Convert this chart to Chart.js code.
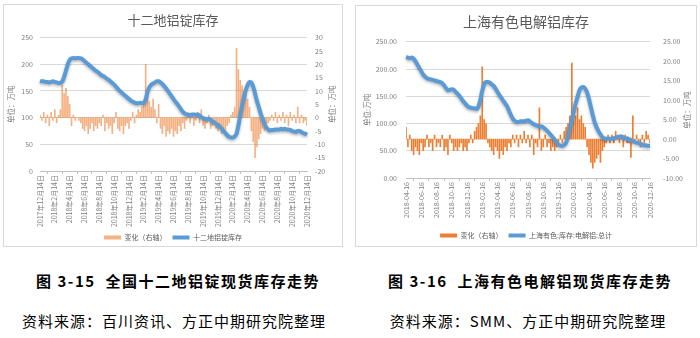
<!DOCTYPE html>
<html>
<head>
<meta charset="utf-8">
<script src="https://cdn.jsdelivr.net/npm/chart.js@4.4.1/dist/chart.umd.min.js"></script>
<style>
body { margin: 0; background: #fff; width: 700px; height: 338px; position: relative; overflow: hidden;
       font-family: "Noto Sans CJK SC", sans-serif; }
.box { position: absolute; border: 1px solid #D9D9D9; }
.cv { position: absolute; }
.cap { position: absolute; width: 340px; text-align: center; color: #000; white-space: nowrap; line-height: 20px; }
.cap1 { font-size: 15px; font-weight: bold; letter-spacing: 1.5px; }
.cap2 { font-size: 15px; letter-spacing: 1px; }
</style>
</head>
<body>
<div class="box" style="left:3px;top:4px;width:338px;height:241px"></div>
<div class="box" style="left:355px;top:5px;width:340px;height:240px"></div>
<div class="cv" style="left:4px;top:5px;width:338px;height:246px"><canvas id="leftChart"></canvas></div>
<div class="cv" style="left:356px;top:6px;width:340px;height:243px"><canvas id="rightChart"></canvas></div>

<div class="cap cap1" style="left:8px;top:271px">图 3-15&nbsp; 全国十二地铝锭现货库存走势</div>
<div class="cap cap2" style="left:4px;top:311px">资料来源：百川资讯、方正中期研究院整理</div>
<div class="cap cap1" style="left:360px;top:271px">图 3-16&nbsp; 上海有色电解铝现货库存走势</div>
<div class="cap cap2" style="left:358px;top:311px">资料来源：SMM、方正中期研究院整理</div>

<script>
// 十二地铝锭库存 (weekly, 2017-12-14 .. 2020-12-14)
var leftTicks = ['2017年12月14日', '2018年2月14日', '2018年4月14日', '2018年6月14日', '2018年8月14日',
    '2018年10月14日', '2018年12月14日', '2019年2月14日', '2019年4月14日', '2019年6月14日',
    '2019年8月14日', '2019年10月14日', '2019年12月14日', '2020年2月14日', '2020年4月14日',
    '2020年6月14日', '2020年8月14日', '2020年10月14日', '2020年12月14日'];
var leftStock = [
    169, 168, 168, 167, 167, 166, 167, 168, 167, 166,
    165, 165, 168, 176, 188, 200, 208, 211, 212, 211,
    212, 212, 211, 209, 206, 203, 200, 197, 194, 191,
    188, 186, 183, 180, 178, 176, 173, 171, 168, 165,
    162, 158, 154, 150, 147, 144, 141, 138, 135, 132,
    130, 128, 127, 127, 128, 127, 128, 134, 148, 157,
    162, 164, 166, 168, 168, 166, 163, 159, 155, 150,
    145, 140, 135, 130, 126, 121, 116, 111, 108, 106,
    105, 105, 106, 106, 105, 106, 104, 101, 99, 98,
    97, 98, 96, 93, 91, 88, 86, 83, 79, 75,
    71, 67, 64, 63, 63, 65, 70, 85, 105, 122,
    138, 152, 161, 167, 166, 158, 145, 131, 120, 108,
    98, 89, 82, 78, 76, 77, 77, 78, 78, 78,
    79, 78, 79, 78, 78, 77, 75, 74, 73, 75,
    75, 73, 71, 70, 68];
var leftChange = [
    1, -1, 2, -2, 1, -3, 2, -1, 3, -2,
    1, 3, 12, 9, 11, 8, 5, -3, 1, -1,
    0, -1, -2, -4, -5, -3, -6, -4, -2, -5,
    -3, -4, -2, -3, 1, -5, -2, -4, -3, -6,
    -2, 2, -4, -5, -3, -6, -3, -2, -4, -1,
    2, -2, 1, 3, 2, 4, 6, 20, 9, 6,
    4, 7, 3, -2, 5, -4, -6, -3, -7, -5,
    -6, -4, -7, -5, -6, -3, -5, -2, -4, -1,
    2, -2, 1, -3, -1, 2, -2, 3, -3, -4,
    -2, 1, -4, -3, -2, -4, -5, -3, -6, -4,
    -5, -3, -2, 1, 2, 4, 26, 18, 14, 12,
    9, 10, 7, 4, -5, -9, -15, -11, -8, -6,
    -4, -5, -3, -2, -1, 1, -1, 2, -2, 1,
    -1, 2, -2, 1, -3, 2, -1, 1, -2, 4,
    -2, 1, -2, -1, -3];

// 上海有色电解铝库存 (2018-04-16 .. 2020-12-16)
var rightTicks = ['2018-04-16', '2018-06-16', '2018-08-16', '2018-10-16', '2018-12-16',
    '2019-02-16', '2019-04-16', '2019-06-16', '2019-08-16', '2019-10-16', '2019-12-16',
    '2020-02-16', '2020-04-16', '2020-06-16', '2020-08-16', '2020-10-16', '2020-12-16'];
var rightStock = [
    222, 221, 220, 221, 219, 214, 208, 202, 196, 190,
    186, 183, 182, 181, 180, 179, 178, 177, 176, 174,
    170, 165, 161, 162, 163, 162, 158, 155, 151, 146,
    141, 137, 133, 130, 129, 128, 128, 127, 131, 143,
    160, 172, 176, 176, 175, 172, 169, 164, 158, 152,
    147, 142, 137, 132, 124, 116, 109, 105, 103, 103,
    104, 104, 104, 105, 106, 104, 101, 99, 97, 96,
    94, 95, 93, 90, 87, 83, 79, 75, 70, 65,
    61, 60, 59, 61, 65, 76, 91, 106, 121, 137,
    149, 161, 166, 167, 164, 157, 145, 130, 115, 102,
    93, 86, 80, 75, 73, 72, 72, 72, 72, 73,
    74, 75, 76, 76, 75, 72, 73, 71, 70, 67,
    66, 65, 64, 63, 61, 60, 60, 59, 59];
var rightChange = [
    3, -2, 1, -3, -4, -2, -3, -4, -1, -3,
    -2, 1, -2, -1, -3, 1, -2, -1, -2, 1,
    -3, -2, -4, 1, -1, -3, -2, -3, -2, -1,
    -3, -2, -3, -1, 1, -1, 2, 3, 4, 6,
    18.6, 5, 4, -1, -2, -3, -4, -2, -3, -5,
    -3, -4, -2, -3, -1, -2, 1, -1, 1, -2,
    1, -1, 2, -1, 1, -2, 1, -4, -1, -2,
    8, -3, -2, 1, -2, -1, -3, -2, -3, -2,
    -1, 1, -1, 2, 3, 4, 6, 19.5, 7, 6,
    8, 5, 6, 4, 3, -2, -4, -6, -7.5, -6,
    -5, -4, -6, -3, -2, -1, 1, -1, 1, -1,
    2, 1, -1, 1, -2, 1, -1, -1, -4.7, 6,
    -1, 1, -1, -2, 1, -1, 2, 1, -1];

var STEP = 8; // data points between two date labels

Chart.defaults.font.family = '"Noto Sans CJK SC", "DejaVu Sans", sans-serif';
Chart.defaults.color = '#7F7F7F';
Chart.defaults.animation = false;

// "单位：万吨" written bottom-to-top beside both value axes
var unitTitles = {
    id: 'unitTitles',
    afterDraw: function(chart, args, opts) {
        var ctx = chart.ctx;
        var midY = (chart.chartArea.top + chart.chartArea.bottom) / 2;
        ctx.save();
        ctx.font = '7.5px "Noto Sans CJK SC"';
        ctx.fillStyle = '#7F7F7F';
        ctx.textAlign = 'center';
        ctx.textBaseline = 'middle';
        opts.items.forEach(function(it) {
            ctx.save();
            ctx.translate(it.x, midY);
            ctx.rotate(-Math.PI / 2);
            ctx.fillText(it.text, 0, 0);
            ctx.restore();
        });
        ctx.restore();
    }
};

// soft shadow under the stock line
var lineShadow = {
    id: 'lineShadow',
    beforeDatasetDraw: function(chart, args) {
        if (args.meta.type !== 'line') return;
        chart.ctx.save();
        chart.ctx.shadowColor = 'rgba(0,0,0,0.3)';
        chart.ctx.shadowBlur = 3;
        chart.ctx.shadowOffsetY = 1.5;
    },
    afterDatasetDraw: function(chart, args) {
        if (args.meta.type !== 'line') return;
        chart.ctx.restore();
    }
};

function buildChart(id, cfg) {
    var labels = cfg.stock.map(function(v, i) {
        return i % STEP === 0 ? cfg.ticks[i / STEP] : '';
    });
    return new Chart(document.getElementById(id).getContext('2d'), {
        type: 'bar',
        data: {
            labels: labels,
            datasets: [
                {
                    type: 'bar',
                    label: '变化（右轴）',
                    data: cfg.change,
                    yAxisID: 'y1',
                    backgroundColor: cfg.barColor,
                    barThickness: 1,
                    order: 2
                },
                {
                    type: 'line',
                    label: cfg.lineLabel,
                    data: cfg.stock,
                    yAxisID: 'y',
                    borderColor: '#5B9BD5',
                    backgroundColor: '#5B9BD5',
                    borderWidth: 4,
                    pointRadius: 0,
                    cubicInterpolationMode: 'monotone',
                    order: 1
                }
            ]
        },
        plugins: [unitTitles, lineShadow],
        options: {
            responsive: true,
            maintainAspectRatio: false,
            layout: { padding: 0 },
            scales: {
                x: {
                    offset: false,
                    grid: { drawOnChartArea: false, drawTicks: true, tickLength: 3, color: '#BFBFBF' },
                    border: { color: '#BFBFBF' },
                    ticks: {
                        autoSkip: false,
                        minRotation: 90,
                        maxRotation: 90,
                        padding: 1,
                        font: { size: 7 },
                        callback: function(v, i) {
                            return i % STEP === 0 ? this.getLabelForValue(v) : null;
                        }
                    },
                    afterFit: function(s) { s.height = cfg.xHeight; }
                },
                y: {
                    position: 'left',
                    min: 0,
                    max: 250,
                    ticks: {
                        stepSize: 50,
                        padding: cfg.yPad,
                        font: { size: 7 },
                        callback: function(v) { return v.toFixed(cfg.digits); }
                    },
                    grid: { color: '#D9D9D9', drawTicks: false },
                    border: { display: false },
                    afterFit: function(s) { s.width = cfg.yWidth; }
                },
                y1: {
                    position: 'right',
                    min: cfg.rMin,
                    max: cfg.rMax,
                    ticks: {
                        stepSize: 5,
                        padding: cfg.y1Pad,
                        font: { size: 7 },
                        callback: function(v) { return v.toFixed(cfg.digits); }
                    },
                    grid: { display: false, drawTicks: false },
                    border: { display: false },
                    afterFit: function(s) { s.width = cfg.y1Width; }
                }
            },
            plugins: {
                title: {
                    display: true,
                    text: cfg.title,
                    color: '#595959',
                    font: { size: cfg.titleSize, weight: 'normal' },
                    padding: { top: cfg.titleTop, bottom: cfg.titleBottom }
                },
                legend: {
                    position: 'bottom',
                    labels: {
                        boxWidth: 17,
                        boxHeight: 4,
                        padding: 6,
                        color: '#595959',
                        font: { size: 7 },
                        sort: function(a, b) { return a.datasetIndex - b.datasetIndex; },
                        generateLabels: function(chart) {
                            var items = Chart.defaults.plugins.legend.labels.generateLabels(chart);
                            items.forEach(function(it) { it.lineWidth = 0; });
                            return items;
                        }
                    }
                },
                tooltip: { enabled: false },
                unitTitles: { items: cfg.units }
            }
        }
    });
}

buildChart('leftChart', {
    title: '十二地铝锭库存', titleSize: 13, titleTop: 7, titleBottom: 10,
    ticks: leftTicks, stock: leftStock, change: leftChange,
    lineLabel: '十二地铝锭库存', barColor: 'rgba(237,125,49,0.6)',
    rMin: -20, rMax: 30, digits: 0,
    yWidth: 36, yPad: 7, y1Width: 35, y1Pad: 8, xHeight: 57,
    units: [{ x: 7, text: '单位：万吨' }, { x: 328, text: '单位：万吨' }]
});

buildChart('rightChart', {
    title: '上海有色电解铝库存', titleSize: 14, titleTop: 7, titleBottom: 12,
    ticks: rightTicks, stock: rightStock, change: rightChange,
    lineLabel: '上海有色:库存:电解铝:总计', barColor: '#ED7D31',
    rMin: -10, rMax: 25, digits: 2,
    yWidth: 50, yPad: 9, y1Width: 46, y1Pad: 13, xHeight: 48,
    units: [{ x: 11, text: '单位:万吨' }, { x: 331, text: '单位：万吨' }]
});
</script>
</body>
</html>
